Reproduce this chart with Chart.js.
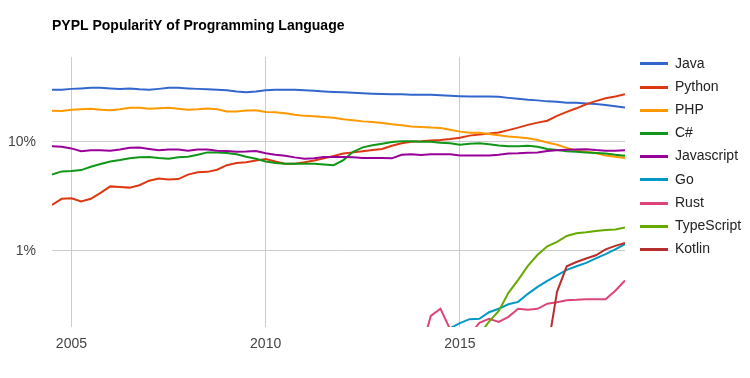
<!DOCTYPE html>
<html><head><meta charset="utf-8">
<script src="https://cdn.jsdelivr.net/npm/chart.js@4/dist/chart.umd.min.js"></script>
<style>html,body{margin:0;padding:0;background:#fff;}#wrap{width:750px;height:378px;position:relative;}</style>
</head><body><div id="wrap"><canvas id="c" width="750" height="378"></canvas></div>
<script>
const chartTitle = 'PYPL PopularitY of Programming Language';
const dates = [2004.5,2004.75,2005,2005.25,2005.5,2005.75,2006,2006.25,2006.5,2006.75,
  2007,2007.25,2007.5,2007.75,2008,2008.25,2008.5,2008.75,2009,2009.25,
  2009.5,2009.75,2010,2010.25,2010.5,2010.75,2011,2011.25,2011.5,2011.75,
  2012,2012.25,2012.5,2012.75,2013,2013.25,2013.5,2013.75,2014,2014.25,
  2014.5,2014.75,2015,2015.25,2015.5,2015.75,2016,2016.25,2016.5,2016.75,
  2017,2017.25,2017.5,2017.75,2018,2018.25,2018.5,2018.75,2019,2019.25];
const languages = ['Java','Python','PHP','C#','Javascript','Go','Rust','TypeScript','Kotlin'];
const colors = ['#3366cc','#dc3912','#ff9900','#109618','#990099','#0099c6','#dd4477','#66aa00','#b82e2e'];
const java = [30.0,30.0,30.6,30.9,31.3,31.3,30.9,30.6,30.9,30.3, 30.0,30.6,31.3,31.3,30.9,30.6,30.3,30.0,29.7,29.0,
  28.5,29.0,29.7,30.0,30.0,30.0,29.7,29.4,29.0,28.7, 28.5,28.2,27.9,27.6,27.4,27.3,27.3,27.0,27.0,27.0,
  26.7,26.4,26.2,26.1,26.1,26.1,25.9,25.3,24.8,24.3, 24.0,23.5,23.3,22.8,22.8,22.5,22.2,21.8,21.2,20.6];
const python = [2.64,3.0,3.03,2.83,3.0,3.4,3.9,3.85,3.8,4.0, 4.4,4.6,4.5,4.55,5.0,5.25,5.3,5.55,6.1,6.4,
  6.5,6.75,6.95,6.6,6.3,6.3,6.5,6.75,7.05,7.4, 7.8,8.0,8.2,8.4,8.6,9.2,9.7,10.0,10.1,10.3,
  10.4,10.6,10.9,11.4,11.7,11.9,12.2,12.8,13.5,14.3, 15.0,15.6,17.3,18.8,20.3,22.1,23.6,25.1,26.1,27.4];
const php = [19.3,19.2,19.7,19.9,20.1,19.7,19.5,19.9,20.5,20.5, 20.1,20.3,20.5,20.1,19.7,19.9,20.2,19.9,19.0,19.0,
  19.4,19.5,18.8,18.7,18.3,17.7,17.3,17.2,16.9,16.6, 16.1,15.8,15.4,15.2,14.9,14.5,14.2,13.8,13.7,13.5,
  13.4,12.9,12.4,12.1,12.1,11.8,11.5,11.2,11.0,10.8, 10.4,9.85,9.4,8.8,8.3,8.1,7.9,7.5,7.3,7.1];
const csharp = [5.0,5.35,5.4,5.5,5.9,6.25,6.6,6.8,7.05,7.2, 7.25,7.1,7.0,7.2,7.3,7.6,8.0,8.0,7.9,7.7,
  7.3,7.0,6.6,6.4,6.3,6.3,6.3,6.3,6.2,6.1, 6.8,8.1,8.9,9.3,9.6,9.95,10.1,10.1,10.0,10.0,
  9.8,9.7,9.4,9.6,9.7,9.5,9.25,9.1,9.1,9.2, 9.0,8.6,8.4,8.2,8.1,8.0,7.9,7.8,7.6,7.45];
const javascript = [9.1,9.0,8.7,8.2,8.35,8.35,8.3,8.5,8.8,8.85, 8.6,8.35,8.5,8.5,8.3,8.5,8.5,8.3,8.25,8.1,
  8.15,8.25,7.85,7.6,7.45,7.2,7.0,7.05,7.25,7.25, 7.25,7.2,7.1,7.1,7.1,7.05,7.6,7.7,7.55,7.7,
  7.7,7.7,7.5,7.5,7.5,7.5,7.6,7.8,7.85,7.95, 8.0,8.25,8.35,8.45,8.5,8.55,8.4,8.3,8.3,8.35];
const go = [null,null,null,null,null,null,null,null,null,null, null,null,null,null,null,null,null,null,null,null,
  null,null,null,null,null,null,null,null,null,null, null,null,null,null,null,null,null,null,null,null,
  null,0.195,0.217,0.236,0.238,0.273,0.294,0.323,0.34,0.403, 0.467,0.531,0.596,0.669,0.721,0.776,0.853,0.933,1.03,1.15];
const rust = [null,null,null,null,null,null,null,null,null,null, null,null,null,null,null,null,null,null,null,null,
  null,null,null,null,null,null,null,null,null,null, null,null,null,null,null,null,null,null,0.12,0.253,
  0.294,0.19,0.12,0.17,0.218,0.238,0.223,0.248,0.294,0.288, 0.294,0.327,0.337,0.352,0.355,0.36,0.36,0.36,0.43,0.534];
const typescript = [null,null,null,null,null,null,null,null,null,null, null,null,null,null,null,null,null,null,null,null,
  null,null,null,null,null,null,null,null,null,null, null,null,null,null,null,null,null,null,null,null,
  null,null,null,null,0.17,0.224,0.281,0.412,0.542,0.728, 0.919,1.10,1.21,1.37,1.45,1.48,1.52,1.55,1.57,1.64];
const kotlin = [null,null,null,null,null,null,null,null,null,null, null,null,null,null,null,null,null,null,null,null,
  null,null,null,null,null,null,null,null,null,null, null,null,null,null,null,null,null,null,null,null,
  null,null,null,null,null,null,null,null,null,null, null,0.12,0.42,0.72,0.79,0.85,0.91,1.03,1.11,1.18];
const seriesValues = [java, python, php, csharp, javascript, go, rust, typescript, kotlin];
const yTicks = [1, 10];
const xTicks = [2005, 2010, 2015];

const FONT = 'Arial, "Liberation Sans", sans-serif';

const overlay = {
  id: 'overlay',
  afterDraw(chart) {
    const ctx = chart.ctx;
    ctx.save();
    ctx.textAlign = 'left';
    ctx.textBaseline = 'middle';
    ctx.fillStyle = '#000';
    ctx.font = 'bold 14px ' + FONT;
    ctx.fillText(chartTitle, chart.chartArea.left, 26);
    ctx.font = '14px ' + FONT;
    chart.data.datasets.forEach((ds, i) => {
      const y = 63.3 + i * 23.2;
      ctx.fillStyle = ds.borderColor;
      ctx.fillRect(640, Math.round(y) - 1, 28, 3);
      ctx.fillStyle = '#222';
      ctx.fillText(ds.label, 675, y + 0.5);
    });
    ctx.restore();
  }
};

new Chart(document.getElementById('c'), {
  type: 'line',
  data: {
    datasets: languages.map((name, i) => ({
      label: name,
      data: dates.map((d, j) => ({ x: d, y: seriesValues[i][j] })),
      borderColor: colors[i],
      backgroundColor: colors[i],
      borderWidth: 2,
      pointRadius: 0,
      pointHoverRadius: 0,
      tension: 0,
      spanGaps: false,
      fill: false,
      order: -i
    }))
  },
  options: {
    responsive: false,
    animation: false,
    devicePixelRatio: 1,
    layout: { padding: { top: 57, right: 125, bottom: 0, left: 0 } },
    plugins: { legend: { display: false }, title: { display: false }, tooltip: { enabled: false } },
    scales: {
      x: {
        type: 'linear',
        min: 2004.5,
        max: 2019.25,
        afterFit(scale) { scale.height = 51; },
        afterBuildTicks(scale) { scale.ticks = xTicks.map(v => ({ value: v })); },
        ticks: { callback: v => String(v), color: '#444', font: { family: FONT, size: 14 }, padding: 9, maxRotation: 0, autoSkip: false },
        grid: { color: '#cccccc', lineWidth: 1, drawTicks: false },
        border: { display: false }
      },
      y: {
        type: 'logarithmic',
        min: 0.2,
        max: 60,
        afterFit(scale) { scale.width = 52; },
        afterBuildTicks(scale) { scale.ticks = yTicks.map(v => ({ value: v })); },
        ticks: { callback: v => v + '%', color: '#444', font: { family: FONT, size: 14 }, padding: 16, autoSkip: false },
        grid: { color: '#cccccc', lineWidth: 1, drawTicks: false },
        border: { display: false }
      }
    }
  },
  plugins: [overlay]
});
</script></body></html>
